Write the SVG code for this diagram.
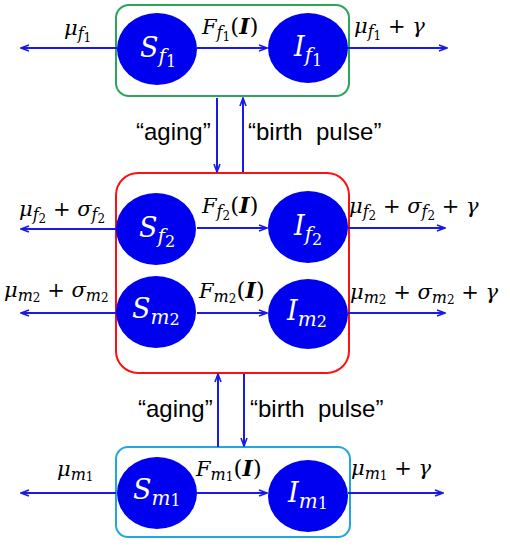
<svg xmlns="http://www.w3.org/2000/svg" width="510" height="546" viewBox="0 0 510 546">
<defs>
<marker id="ah" markerWidth="10" markerHeight="8" refX="9" refY="4" orient="auto" markerUnits="userSpaceOnUse">
<path d="M1,1 L9,4 L1,7" fill="none" stroke="#1a1ae6" stroke-width="1.6"/>
</marker>
<style>
.e{stroke:#1a1ae6;stroke-width:2;fill:none;marker-end:url(#ah)}
.n{fill:#0000f0}
.nl{fill:#fff;font-family:"DejaVu Serif",serif;font-style:italic;font-size:27px}
.el{fill:#000;font-family:"DejaVu Serif",serif;font-style:italic;font-size:21px}
.r{font-style:normal}
.b{font-weight:bold}
.q{fill:#000;font-family:"Liberation Sans",sans-serif;font-size:24px}
.box{fill:none;stroke-width:2}
</style>
</defs>
<rect width="510" height="546" fill="#fff"/>
<g id="boxes">
<rect class="box" x="116" y="5" width="233" height="91" rx="13" stroke="#2aa55a"/>
<rect class="box" x="116" y="173" width="233" height="200" rx="22" stroke="#ff1010"/>
<rect class="box" x="116" y="447" width="234" height="90" rx="12" stroke="#22a6e0"/>
</g>
<g id="connectors">
<line class="e" x1="117" y1="48" x2="21" y2="48"/>
<line class="e" x1="197" y1="48" x2="267" y2="48"/>
<line class="e" x1="348" y1="48" x2="447" y2="48"/>
<line class="e" x1="217" y1="98" x2="217" y2="172"/>
<line class="e" x1="243" y1="172" x2="243" y2="98"/>
<line class="e" x1="116" y1="229" x2="21" y2="229"/>
<line class="e" x1="197" y1="228" x2="267" y2="228"/>
<line class="e" x1="348" y1="228" x2="445" y2="228"/>
<line class="e" x1="116" y1="313" x2="21" y2="313"/>
<line class="e" x1="197" y1="313" x2="267" y2="313"/>
<line class="e" x1="348" y1="313" x2="445" y2="313"/>
<line class="e" x1="218" y1="447" x2="218" y2="374"/>
<line class="e" x1="244" y1="374" x2="244" y2="446"/>
<line class="e" x1="116" y1="493" x2="21" y2="493"/>
<line class="e" x1="197" y1="493" x2="267" y2="493"/>
<line class="e" x1="348" y1="493" x2="443" y2="493"/>
</g>
<g id="Sf1"><ellipse class="n" cx="157" cy="49" rx="40" ry="36"/><text class="nl" x="140" y="57">S<tspan font-size="20" dy="6">f</tspan><tspan class="r" font-size="16" dy="4">1</tspan></text></g>
<g id="If1"><ellipse class="n" cx="308" cy="48" rx="40" ry="35"/><text class="nl" x="294" y="56">I<tspan font-size="20" dy="6">f</tspan><tspan class="r" font-size="16" dy="4">1</tspan></text></g>
<g id="Sf2"><ellipse class="n" cx="156" cy="229" rx="40" ry="36"/><text class="nl" x="139" y="237">S<tspan font-size="20" dy="6">f</tspan><tspan class="r" font-size="16" dy="4">2</tspan></text></g>
<g id="If2"><ellipse class="n" cx="308" cy="227" rx="40" ry="36"/><text class="nl" x="294" y="235">I<tspan font-size="20" dy="6">f</tspan><tspan class="r" font-size="16" dy="4">2</tspan></text></g>
<g id="Sm2"><ellipse class="n" cx="156" cy="312" rx="40" ry="36"/><text class="nl" x="132" y="318">S<tspan font-size="20" dy="6">m</tspan><tspan class="r" font-size="16" dy="1">2</tspan></text></g>
<g id="Im2"><ellipse class="n" cx="308" cy="314" rx="40" ry="35"/><text class="nl" x="287" y="320">I<tspan font-size="20" dy="6">m</tspan><tspan class="r" font-size="16" dy="1">2</tspan></text></g>
<g id="Sm1"><ellipse class="n" cx="157" cy="493" rx="40" ry="36"/><text class="nl" x="133" y="499">S<tspan font-size="20" dy="6">m</tspan><tspan class="r" font-size="16" dy="1">1</tspan></text></g>
<g id="Im1"><ellipse class="n" cx="308" cy="496" rx="40" ry="36"/><text class="nl" x="288" y="502">I<tspan font-size="20" dy="6">m</tspan><tspan class="r" font-size="16" dy="1">1</tspan></text></g>
<g id="labels">
<text class="el" x="64" y="35">μ<tspan font-size="16" dy="4">f</tspan><tspan class="r" font-size="12" dy="3">1</tspan></text>
<text class="el" x="202" y="34">F<tspan font-size="16" dy="4">f</tspan><tspan class="r" font-size="12" dy="3">1</tspan><tspan class="r" font-size="23" dy="-7">(</tspan><tspan class="b" font-size="22">I</tspan><tspan class="r" font-size="23">)</tspan></text>
<text class="el" x="354" y="33" xml:space="preserve">μ<tspan font-size="16" dy="4">f</tspan><tspan class="r" font-size="12" dy="3">1</tspan><tspan class="r" dy="-7"> + </tspan>γ</text>
<text class="q" x="136" y="140">“aging”</text>
<text class="q" x="248" y="140" xml:space="preserve">“birth  pulse”</text>
<text class="el" x="19" y="216" xml:space="preserve">μ<tspan font-size="16" dy="4">f</tspan><tspan class="r" font-size="12" dy="3">2</tspan><tspan class="r" dy="-7"> + </tspan>σ<tspan font-size="16" dy="4">f</tspan><tspan class="r" font-size="12" dy="3">2</tspan></text>
<text class="el" x="202" y="213">F<tspan font-size="16" dy="4">f</tspan><tspan class="r" font-size="12" dy="3">2</tspan><tspan class="r" font-size="23" dy="-7">(</tspan><tspan class="b" font-size="22">I</tspan><tspan class="r" font-size="23">)</tspan></text>
<text class="el" x="349" y="213" xml:space="preserve">μ<tspan font-size="16" dy="4">f</tspan><tspan class="r" font-size="12" dy="3">2</tspan><tspan class="r" dy="-7"> + </tspan>σ<tspan font-size="16" dy="4">f</tspan><tspan class="r" font-size="12" dy="3">2</tspan><tspan class="r" dy="-7"> + </tspan>γ</text>
<text class="el" x="4" y="297" xml:space="preserve">μ<tspan font-size="16" dy="4">m</tspan><tspan class="r" font-size="12" dy="1">2</tspan><tspan class="r" dy="-5"> + </tspan>σ<tspan font-size="16" dy="4">m</tspan><tspan class="r" font-size="12" dy="1">2</tspan></text>
<text class="el" x="199" y="298">F<tspan font-size="16" dy="4">m</tspan><tspan class="r" font-size="12" dy="1">2</tspan><tspan class="r" font-size="23" dy="-5">(</tspan><tspan class="b" font-size="22">I</tspan><tspan class="r" font-size="23">)</tspan></text>
<text class="el" x="350" y="299" xml:space="preserve">μ<tspan font-size="16" dy="4">m</tspan><tspan class="r" font-size="12" dy="1">2</tspan><tspan class="r" dy="-5"> + </tspan>σ<tspan font-size="16" dy="4">m</tspan><tspan class="r" font-size="12" dy="1">2</tspan><tspan class="r" dy="-5"> + </tspan>γ</text>
<text class="q" x="138" y="417">“aging”</text>
<text class="q" x="250" y="417" xml:space="preserve">“birth  pulse”</text>
<text class="el" x="57" y="476">μ<tspan font-size="16" dy="4">m</tspan><tspan class="r" font-size="12" dy="1">1</tspan></text>
<text class="el" x="196" y="476">F<tspan font-size="16" dy="4">m</tspan><tspan class="r" font-size="12" dy="1">1</tspan><tspan class="r" font-size="23" dy="-5">(</tspan><tspan class="b" font-size="22">I</tspan><tspan class="r" font-size="23">)</tspan></text>
<text class="el" x="351" y="475" xml:space="preserve">μ<tspan font-size="16" dy="4">m</tspan><tspan class="r" font-size="12" dy="1">1</tspan><tspan class="r" dy="-5"> + </tspan>γ</text>
</g>
</svg>
